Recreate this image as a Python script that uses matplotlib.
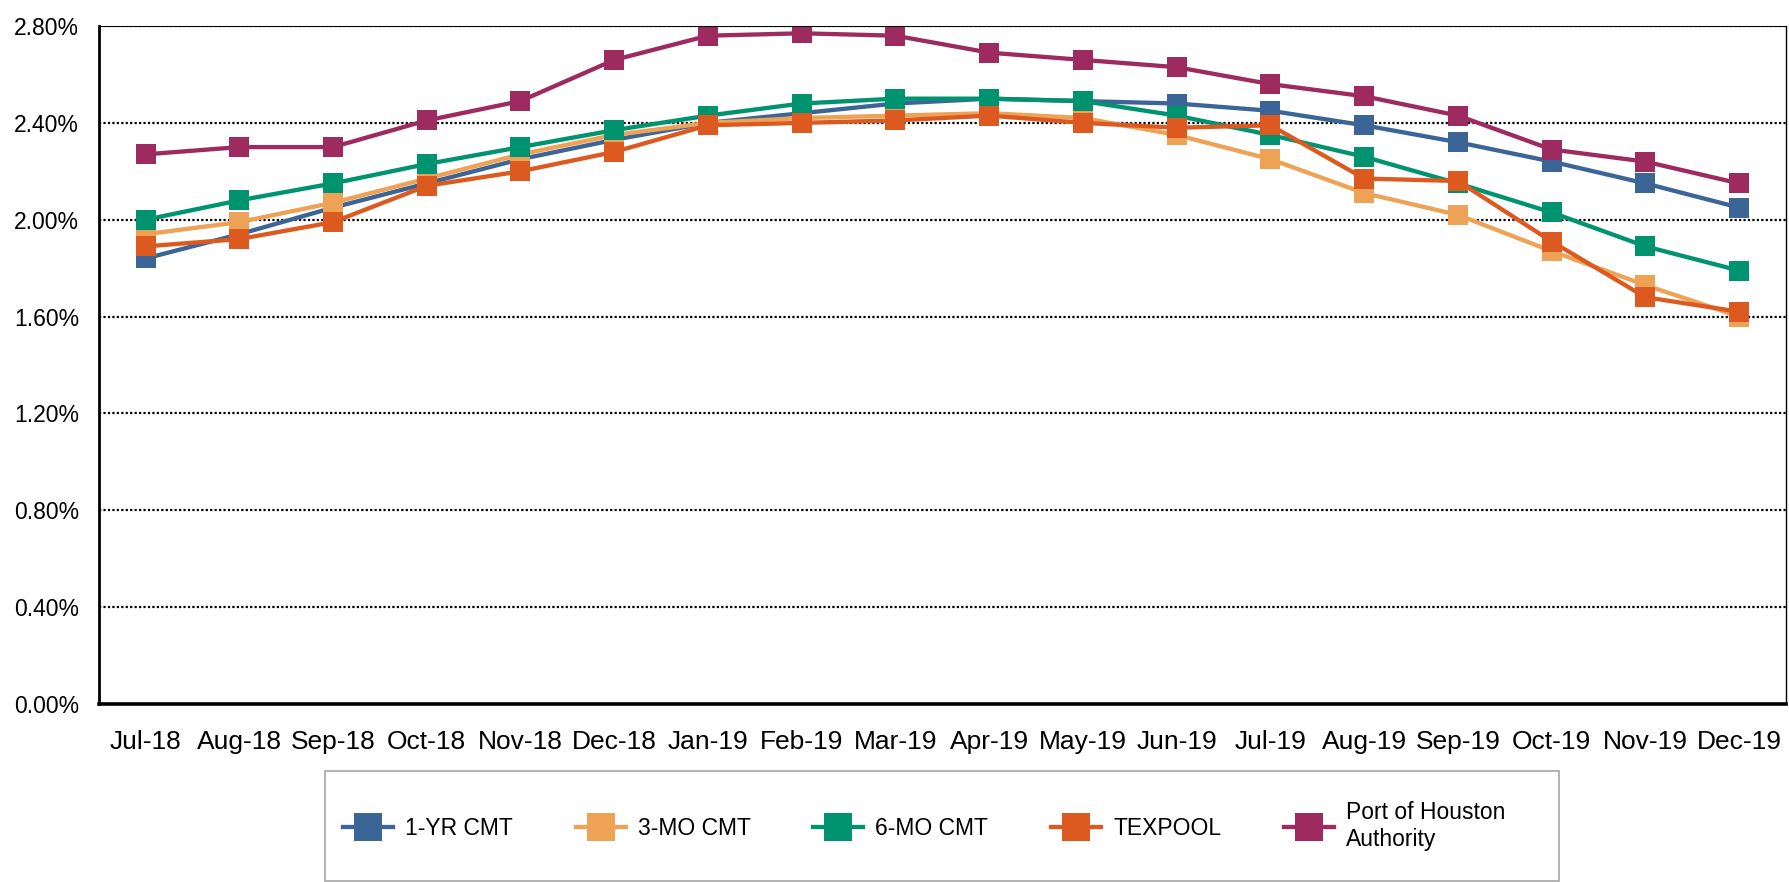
import matplotlib.pyplot as plt
from matplotlib.patches import Rectangle
import numpy as np

months = ['Jul-18', 'Aug-18', 'Sep-18', 'Oct-18', 'Nov-18', 'Dec-18', 'Jan-19', 'Feb-19', 'Mar-19',
          'Apr-19', 'May-19', 'Jun-19', 'Jul-19', 'Aug-19', 'Sep-19', 'Oct-19', 'Nov-19', 'Dec-19']

yr1_cmt = [1.84, 1.94, 2.05, 2.15, 2.25, 2.33, 2.40, 2.44, 2.48, 2.50, 2.49, 2.48, 2.45, 2.39, 2.32, 2.24, 2.15, 2.05]
mo3_cmt = [1.94, 1.99, 2.07, 2.17, 2.27, 2.35, 2.40, 2.42, 2.43, 2.44, 2.42, 2.35, 2.25, 2.11, 2.02, 1.87, 1.73, 1.60]
mo6_cmt = [2.00, 2.08, 2.15, 2.23, 2.30, 2.37, 2.43, 2.48, 2.50, 2.50, 2.49, 2.43, 2.35, 2.26, 2.15, 2.03, 1.89, 1.79]
texpool = [1.89, 1.92, 1.99, 2.14, 2.20, 2.28, 2.39, 2.40, 2.41, 2.43, 2.40, 2.38, 2.39, 2.17, 2.16, 1.91, 1.68, 1.62]
port = [2.27, 2.30, 2.30, 2.41, 2.49, 2.66, 2.76, 2.77, 2.76, 2.69, 2.66, 2.63, 2.56, 2.51, 2.43, 2.29, 2.24, 2.15]

series = [
    ('1-YR CMT', yr1_cmt, '#3b6597'),
    ('3-MO CMT', mo3_cmt, '#eea255'),
    ('6-MO CMT', mo6_cmt, '#00936f'),
    ('TEXPOOL', texpool, '#dc5a20'),
    ('Port of Houston\nAuthority', port, '#9e2b5f'),
]

plt.rcParams['font.family'] = 'Liberation Sans'

W, H = 1790, 882
fig = plt.figure(figsize=(W / 100, H / 100), dpi=100)
ax = fig.add_axes([0.0551, 0.2018, 0.9427, 0.7687])

x = np.arange(len(months))
for name, vals, col in series:
    ax.plot(x, vals, color=col, linewidth=3.1, marker='s', markersize=15,
            markeredgewidth=0, label=name)

ax.set_xlim(-0.5, len(months) - 0.5)
ax.set_ylim(0, 2.8)
yt = np.arange(0, 2.81, 0.4)
ax.set_yticks(yt)
ax.set_yticklabels([f'{v:.2f}%' for v in yt], fontsize=16.5)
ax.set_xticks(x)
ax.set_xticklabels(months, fontsize=19)
ax.tick_params(length=0)
ax.tick_params(axis='x', pad=19)
ax.tick_params(axis='y', pad=14)

ax.grid(axis='y', color='black', linestyle=(0, (1, 1)), linewidth=1.6)
ax.set_axisbelow(True)

ax.spines['left'].set_linewidth(2)
ax.spines['bottom'].set_linewidth(2.6)
ax.spines['right'].set_linewidth(1)
ax.spines['top'].set_linewidth(0.75)

# legend box like the excel one
fig.patches.append(Rectangle((325 / W, 1 - 881 / H), (1559 - 325) / W, 110 / H,
                             transform=fig.transFigure, fill=False, edgecolor='#a6a6a6', linewidth=1.2))
leg = fig.legend(loc='center left', bbox_to_anchor=(343 / W, 1 - 826 / H), ncol=5,
                 borderaxespad=0, frameon=False, markerscale=1.3, borderpad=0,
                 handlelength=2.18, handletextpad=0.52, columnspacing=2.75, fontsize=16.5)

plt.savefig('out.png', dpi=100)
